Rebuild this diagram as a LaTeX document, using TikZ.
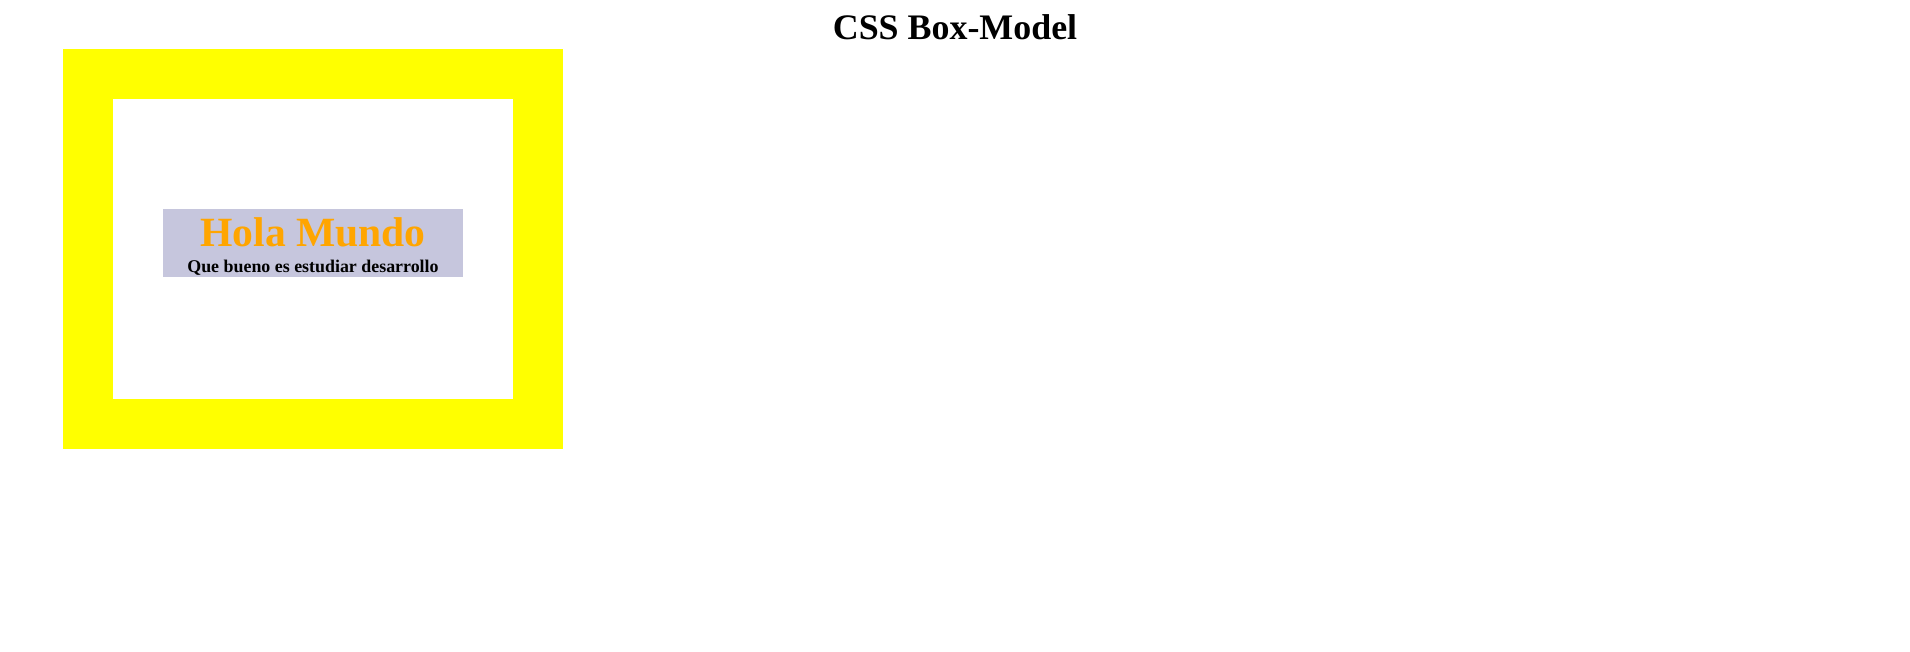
\documentclass[tikz,border=0pt]{standalone}
\usepackage{fontspec}
\setmainfont{Liberation Serif}
\definecolor{boxyellow}{HTML}{FFFF00}
\definecolor{boxgray}{HTML}{C6C6DD}
\definecolor{boxorange}{HTML}{FFA500}
\tikzset{
  plainrect/.style={rectangle, inner sep=0pt, outer sep=0pt, draw=none, anchor=north west},
  txt/.style={inner sep=0pt, outer sep=0pt, anchor=base, font=\bfseries}
}
\begin{document}
\begin{tikzpicture}[x=1pt,y=-1pt]
\useasboundingbox[fill=white] (0,0) rectangle (1910,651);
\node[txt, font=\bfseries\fontsize{35.9}{40}\selectfont] (title) at (955,39.3) {CSS Box-Model};
\node[plainrect, fill=boxyellow, minimum width=500pt, minimum height=400pt] (border) at (63,49) {};
\node[plainrect, fill=white, minimum width=400pt, minimum height=300pt] (padding) at (113,99) {};
\node[plainrect, fill=boxgray, minimum width=300pt, minimum height=68pt] (content) at (163,209) {};
\node[txt, text=boxorange, font=\bfseries\fontsize{41.6}{46}\selectfont] (hola) at (313,246.7) {Hola Mundo};
\node[txt, font=\bfseries\fontsize{17.9}{20}\selectfont] (sub) at (313,272.3) {Que bueno es estudiar desarrollo};
\end{tikzpicture}
\end{document}
